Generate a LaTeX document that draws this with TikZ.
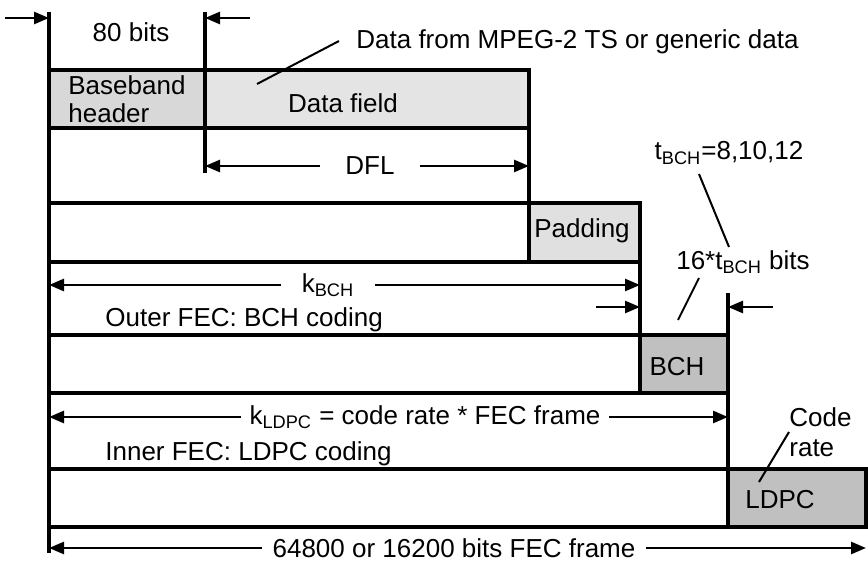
\documentclass[tikz,border=0pt]{standalone}
\usepackage{fontspec}
\setmainfont{Liberation Sans}
\usetikzlibrary{arrows.meta}
\definecolor{hdrgray}{RGB}{216,216,216}
\definecolor{fldgray}{RGB}{228,228,228}
\definecolor{padgray}{RGB}{224,224,224}
\definecolor{fecgray}{RGB}{192,192,192}
\tikzset{
  fecframe/.style={x=0.5pt,y=-0.5pt,font=\fontsize{13}{14}\selectfont},
  blk/.style={draw,line width=1.6pt,anchor=north west,inner sep=0pt,outer sep=0pt,minimum height=29pt},
  rule/.style={line width=1.6pt},
  dim/.style={line width=1.3pt,-{Triangle[length=7.5pt,width=6pt]}},
  lead/.style={line width=1pt},
  lbl/.style={inner sep=1pt},
}

\begin{document}
\begin{tikzpicture}[fecframe]
  \useasboundingbox (0,0) rectangle (868,561);
  % blocks of each stage
  \node[blk,fill=hdrgray,minimum width=78pt]    (hdr)  at (49,70)  {};
  \node[blk,fill=fldgray,minimum width=162pt]   (fld)  at (205,70) {};
  \node[blk,fill=white,minimum width=240pt,minimum height=29.5pt]   (row2) at (49,203) {};
  \node[blk,fill=padgray,minimum width=55.5pt,minimum height=29.5pt] (pad)  at (529,203) {};
  \node[blk,fill=white,minimum width=295.5pt]   (row3) at (49,335) {};
  \node[blk,fill=fecgray,minimum width=44pt]    (bch)  at (640,335) {};
  \node[blk,fill=white,minimum width=339.5pt]   (row4) at (49,469) {};
  \node[blk,fill=fecgray,minimum width=69pt]    (ldpc) at (728,469) {};
  % boundaries
  \coordinate (lt) at (49,12);
  \coordinate (lb) at (49,553);
  \coordinate (ht) at (205,12);
  \coordinate (hb) at (205,173);
  \coordinate (bt) at (728,293);
  \draw[rule] (lt) -- (lb);
  \draw[rule] (ht) -- (hb);
  \draw[rule] (fld.south east) -- (pad.north west);
  \draw[rule] (pad.south east) -- (bch.north west);
  \draw[rule] (bt) -- (ldpc.north west);
  % texts
  \node[lbl] (bits80) at (131,32) {80 bits};
  \node[lbl,anchor=west,align=left] (hdrtxt) at (66,99) {Baseband\\header};
  \node[lbl] (fldtxt) at (343,103) {Data field};
  \node[lbl,anchor=west] (mpeg) at (354,42) {Data from MPEG-2 TS or generic data};
  \node[lbl] (padtxt) at (582,231) {Padding};
  \node[lbl] (tbch) at (729,153) {t\textsubscript{BCH}=8,10,12};
  \node[lbl] (par) at (743,262) {16*t\textsubscript{BCH} bits};
  \node[lbl,anchor=west] (outer) at (103,320) {Outer FEC: BCH coding};
  \node[lbl] (bchtxt) at (677,367) {BCH};
  \node[lbl,anchor=west] (inner) at (103,454) {Inner FEC: LDPC coding};
  \node[lbl,anchor=west,align=left] (rate) at (787,432) {Code\\[1pt]rate};
  \node[lbl] (ldpctxt) at (780,500) {LDPC};
  % leaders
  \coordinate (fldpt) at (257,84);
  \coordinate (mpegpt) at (339,41);
  \draw[lead] (fldpt) -- (mpegpt);
  \draw[lead] (699,174) -- (729,247);
  \draw[lead] (699,278) -- (678,320);
  \draw[lead] (789,432) -- (759,482);
  % dimension arrows
  \coordinate (a1) at (5,18);
  \coordinate (a2) at (250,18);
  \draw[dim] (a1) -- (a1 -| lt);
  \draw[dim] (a2) -- (a2 -| ht);
  \node[lbl,inner xsep=12.5pt] (dfl) at (370,166) {DFL};
  \draw[dim] (dfl.west) -- (dfl.west -| ht);
  \draw[dim] (dfl.east) -- (dfl.east -| fld.east);
  \node[lbl,inner xsep=10pt] (kbch) at (328,285) {k\textsubscript{BCH}};
  \draw[dim] (kbch.west) -- (kbch.west -| lt);
  \draw[dim] (kbch.east) -- (kbch.east -| pad.east);
  \coordinate (a3) at (596,307);
  \coordinate (a4) at (773,307);
  \draw[dim] (a3) -- (a3 -| bch.west);
  \draw[dim] (a4) -- (a4 -| bch.east);
  \node[lbl,inner xsep=4pt] (kldpc) at (425,417) {k\textsubscript{LDPC} = code rate * FEC frame};
  \draw[dim] (kldpc.west) -- (kldpc.west -| lt);
  \draw[dim] (kldpc.east) -- (kldpc.east -| bch.east);
  \node[lbl,inner xsep=5pt] (fec) at (454,548) {64800 or 16200 bits FEC frame};
  \draw[dim] (fec.west) -- (fec.west -| lt);
  \draw[dim] (fec.east) -- (fec.east -| ldpc.east);
\end{tikzpicture}
\end{document}
